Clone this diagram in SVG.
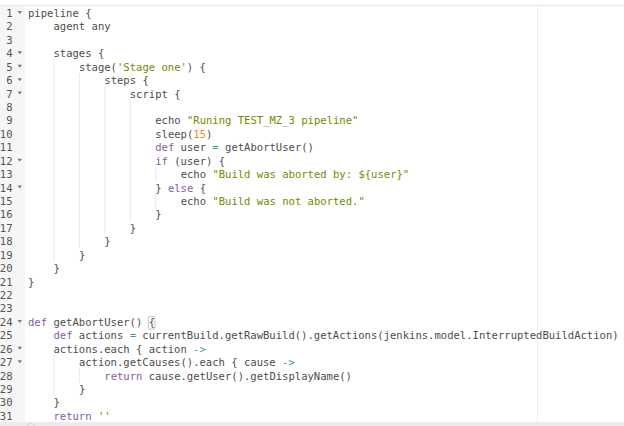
<svg xmlns="http://www.w3.org/2000/svg" width="624" height="426" viewBox="0 0 624 426">
<style>
text{font-family:"DejaVu Sans Mono","Liberation Mono",monospace;font-size:10.56px;fill:#4d4d4c;white-space:pre}
.ln{fill:#555;text-anchor:end}
.k{fill:#8959a8}
.s{fill:#718c00}
.n{fill:#f5871f}
.o{fill:#3e999f}
.g{stroke:#d4d4d4;stroke-width:1;stroke-dasharray:1 1;fill:none}
.f{fill:#7a7a7a}
</style>
<rect x="0" y="0" width="624" height="426" fill="#ffffff"/>
<rect x="0" y="6" width="25" height="416" fill="#f6f6f6"/>
<line x1="0" y1="5.5" x2="624" y2="5.5" stroke="#ececec" stroke-width="1.5"/>
<line x1="537.5" y1="6" x2="537.5" y2="422" stroke="#f0f0f0" stroke-width="1"/>
<rect x="0" y="422" width="624" height="4" fill="#ececec"/>
<circle cx="31" cy="427" r="3.5" fill="none" stroke="#cfcfcf" stroke-width="1"/>

<g id="gutter">
<text class="ln" x="12.5" y="17">1</text>
<text class="ln" x="12.5" y="30.43">2</text>
<text class="ln" x="12.5" y="43.86">3</text>
<text class="ln" x="12.5" y="57.29">4</text>
<text class="ln" x="12.5" y="70.72">5</text>
<text class="ln" x="12.5" y="84.15">6</text>
<text class="ln" x="12.5" y="97.58">7</text>
<text class="ln" x="12.5" y="111.01">8</text>
<text class="ln" x="12.5" y="124.44">9</text>
<text class="ln" x="12.5" y="137.87">10</text>
<text class="ln" x="12.5" y="151.3">11</text>
<text class="ln" x="12.5" y="164.73">12</text>
<text class="ln" x="12.5" y="178.16">13</text>
<text class="ln" x="12.5" y="191.59">14</text>
<text class="ln" x="12.5" y="205.02">15</text>
<text class="ln" x="12.5" y="218.45">16</text>
<text class="ln" x="12.5" y="231.88">17</text>
<text class="ln" x="12.5" y="245.31">18</text>
<text class="ln" x="12.5" y="258.74">19</text>
<text class="ln" x="12.5" y="272.17">20</text>
<text class="ln" x="12.5" y="285.6">21</text>
<text class="ln" x="12.5" y="299.03">22</text>
<text class="ln" x="12.5" y="312.46">23</text>
<text class="ln" x="12.5" y="325.89">24</text>
<text class="ln" x="12.5" y="339.32">25</text>
<text class="ln" x="12.5" y="352.75">26</text>
<text class="ln" x="12.5" y="366.18">27</text>
<text class="ln" x="12.5" y="379.61">28</text>
<text class="ln" x="12.5" y="393.04">29</text>
<text class="ln" x="12.5" y="406.47">30</text>
<text class="ln" x="12.5" y="419.9">31</text>
<polygon class="f" points="17.5,11 22,11 19.75,14"/>
<polygon class="f" points="17.5,51.3 22,51.3 19.75,54.3"/>
<polygon class="f" points="17.5,64.7 22,64.7 19.75,67.7"/>
<polygon class="f" points="17.5,78.2 22,78.2 19.75,81.2"/>
<polygon class="f" points="17.5,91.6 22,91.6 19.75,94.6"/>
<polygon class="f" points="17.5,158.7 22,158.7 19.75,161.7"/>
<polygon class="f" points="17.5,185.6 22,185.6 19.75,188.6"/>
<polygon class="f" points="17.5,319.9 22,319.9 19.75,322.9"/>
<polygon class="f" points="17.5,346.8 22,346.8 19.75,349.8"/>
<polygon class="f" points="17.5,360.2 22,360.2 19.75,363.2"/>
</g>

<g id="indent-guides">
<line class="g" x1="53.9" y1="60.2" x2="53.9" y2="261.7"/>
<line class="g" x1="79.4" y1="73.7" x2="79.4" y2="248.2"/>
<line class="g" x1="104.8" y1="87.1" x2="104.8" y2="234.8"/>
<line class="g" x1="130.3" y1="100.5" x2="130.3" y2="221.4"/>
<line class="g" x1="155.7" y1="167.7" x2="155.7" y2="181.1"/>
<line class="g" x1="155.7" y1="194.6" x2="155.7" y2="208"/>
<line class="g" x1="53.9" y1="355.7" x2="53.9" y2="396"/>
<line class="g" x1="79.4" y1="369.1" x2="79.4" y2="382.5"/>
</g>

<rect id="bracket-highlight" x="148.3" y="316.4" width="6.6" height="12.6" rx="1" fill="none" stroke="#c4c4c4" stroke-width="1"/>

<g id="code">
<text x="28" y="17">pipeline {</text>
<text x="53.44" y="30.43">agent any</text>
<text x="53.44" y="57.29">stages {</text>
<text x="78.88" y="70.72">stage(<tspan class="s">'Stage one'</tspan>) {</text>
<text x="104.32" y="84.15">steps {</text>
<text x="129.76" y="97.58">script {</text>
<text x="155.2" y="124.44">echo <tspan class="s">"Runing TEST_MZ_3 pipeline"</tspan></text>
<text x="155.2" y="137.87">sleep(<tspan class="n">15</tspan>)</text>
<text x="155.2" y="151.3"><tspan class="k">def</tspan> user <tspan class="o">=</tspan> getAbortUser()</text>
<text x="155.2" y="164.73"><tspan class="k">if</tspan> (user) {</text>
<text x="180.64" y="178.16">echo <tspan class="s">"Build was aborted by: ${user}"</tspan></text>
<text x="155.2" y="191.59">} <tspan class="k">else</tspan> {</text>
<text x="180.64" y="205.02">echo <tspan class="s">"Build was not aborted."</tspan></text>
<text x="155.2" y="218.45">}</text>
<text x="129.76" y="231.88">}</text>
<text x="104.32" y="245.31">}</text>
<text x="78.88" y="258.74">}</text>
<text x="53.44" y="272.17">}</text>
<text x="28" y="285.6">}</text>
<text x="28" y="325.89"><tspan class="k">def</tspan> getAbortUser() {</text>
<text x="53.44" y="339.32"><tspan class="k">def</tspan> actions <tspan class="o">=</tspan> currentBuild.getRawBuild().getActions(jenkins.model.InterruptedBuildAction)</text>
<text x="53.44" y="352.75">actions.each { action <tspan class="o">-&gt;</tspan></text>
<text x="78.88" y="366.18">action.getCauses().each { cause <tspan class="o">-&gt;</tspan></text>
<text x="104.32" y="379.61"><tspan class="k">return</tspan> cause.getUser().getDisplayName()</text>
<text x="78.88" y="393.04">}</text>
<text x="53.44" y="406.47">}</text>
<text x="53.44" y="419.9"><tspan class="k">return</tspan> <tspan class="s">''</tspan></text>
</g>
</svg>
